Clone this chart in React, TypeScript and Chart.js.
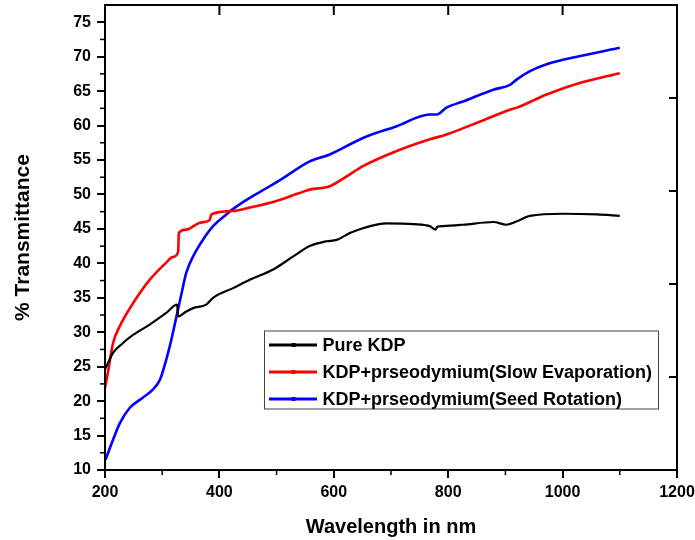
import React, { useEffect, useRef } from 'react';
import { Chart, registerables } from 'chart.js';

Chart.register(...registerables);

const seriesLabels = [
  'Pure KDP',
  'KDP+prseodymium(Slow Evaporation)',
  'KDP+prseodymium(Seed Rotation)',
];
const seriesColors = ['#000000', '#ff0000', '#0000ff'];

const pureX = [200, 205, 214, 231, 249, 278, 307, 326, 328, 342, 354, 377, 389, 424, 453, 494, 529, 558, 587, 605, 628, 651, 692, 739, 768, 778, 781, 791, 826, 879, 902, 920, 943, 1001, 1060, 1100];
const pureY = [24.6, 25.5, 27.0, 28.4, 29.6, 31.1, 32.8, 34.0, 32.3, 33.0, 33.5, 34.0, 35.0, 36.4, 37.6, 39.1, 41.0, 42.5, 43.2, 43.4, 44.4, 45.1, 45.8, 45.7, 45.4, 44.9, 45.3, 45.4, 45.6, 46.0, 45.6, 46.1, 46.9, 47.2, 47.1, 46.9];

const slowX = [200, 205, 214, 226, 249, 278, 307, 318, 328, 329, 342, 366, 383, 386, 424, 448, 494, 540, 558, 593, 622, 651, 710, 768, 797, 856, 908, 920, 972, 1031, 1100];
const slowY = [21.9, 24.1, 28.4, 30.9, 34.2, 37.6, 40.1, 40.9, 41.7, 44.4, 44.9, 45.9, 46.3, 47.1, 47.6, 48.0, 48.9, 50.2, 50.7, 51.2, 52.6, 54.1, 56.3, 58.0, 58.7, 60.6, 62.3, 62.6, 64.5, 66.2, 67.6];

const seedX = [201, 214, 226, 243, 266, 284, 296, 307, 316, 325, 334, 342, 354, 371, 389, 412, 424, 453, 482, 508, 558, 593, 651, 710, 768, 780, 797, 826, 879, 908, 920, 943, 972, 1031, 1100];
const seedY = [11.5, 14.4, 16.8, 19.0, 20.5, 21.7, 23.1, 26.0, 28.9, 32.3, 35.7, 38.6, 41.0, 43.4, 45.4, 47.1, 47.9, 49.5, 50.9, 52.2, 54.8, 55.8, 58.2, 59.9, 61.6, 61.6, 62.6, 63.5, 65.2, 65.9, 66.7, 67.9, 68.9, 70.1, 71.3];

const xMin = 200;
const xMax = 1200;
const xTickValues = [200, 400, 600, 800, 1000, 1200];
const xMinorTicks = [300, 500, 700, 900, 1100];
const xTopTicks = [400, 600, 800, 1000];
const yMin = 10;
const yMax = 77.5;
const yTickValues = [10, 15, 20, 25, 30, 35, 40, 45, 50, 55, 60, 65, 70, 75];
const yMinorTicks = [12.5, 17.5, 22.5, 27.5, 32.5, 37.5, 42.5, 47.5, 52.5, 57.5, 62.5, 67.5, 72.5];
const yRightTicks = [23.5, 37, 50.5, 64];

const FONT = "'Liberation Sans', Arial, sans-serif";

const framePlugin = {
  id: 'frame',
  afterDraw(chart: any) {
    const { ctx, chartArea } = chart;
    const { left, right, top, bottom } = chartArea;
    const xs = chart.scales.x;
    const ys = chart.scales.y;
    ctx.save();
    ctx.strokeStyle = '#000';
    ctx.lineWidth = 2;
    ctx.strokeRect(left, top, right - left, bottom - top);
    const seg = (x1: number, y1: number, x2: number, y2: number) => {
      ctx.beginPath();
      ctx.moveTo(x1, y1);
      ctx.lineTo(x2, y2);
      ctx.stroke();
    };
    ctx.lineWidth = 1.5;
    xMinorTicks.forEach((v) => {
      const px = xs.getPixelForValue(v);
      seg(px, bottom, px, bottom + 5);
    });
    yMinorTicks.forEach((v) => {
      const py = ys.getPixelForValue(v);
      seg(left - 5, py, left, py);
    });
    ctx.lineWidth = 2;
    xTopTicks.forEach((v) => {
      const px = xs.getPixelForValue(v);
      seg(px, top, px, top + 10);
    });
    yRightTicks.forEach((v) => {
      const py = ys.getPixelForValue(v);
      seg(right - 8, py, right, py);
    });

    // legend
    const bx = 264.5, by = 331, bw = 394, bh = 78;
    ctx.lineWidth = 1;
    ctx.strokeStyle = '#444';
    ctx.strokeRect(bx, by, bw, bh);
    const rows = [345, 372, 399];
    ctx.font = `bold 18px ${FONT}`;
    ctx.textBaseline = 'middle';
    ctx.textAlign = 'left';
    chart.data.datasets.forEach((ds: any, i: number) => {
      const cy = rows[i];
      ctx.strokeStyle = ds.borderColor;
      ctx.lineWidth = 3;
      seg(269, cy, 317, cy);
      ctx.fillStyle = ds.borderColor;
      ctx.fillRect(291.5, cy - 2, 4, 4);
      ctx.fillStyle = '#000';
      ctx.fillText(ds.label, 322.5, cy + 1);
    });
    ctx.restore();
  },
};

export default function App() {
  const ref = useRef<HTMLCanvasElement | null>(null);
  useEffect(() => {
    document.body.style.margin = '0';
    const canvas = ref.current;
    if (!canvas) return;
    const mk = (xs: number[], ys: number[]) => xs.map((x, i) => ({ x, y: ys[i] }));
    const datasets = [mk(pureX, pureY), mk(slowX, slowY), mk(seedX, seedY)].map((d, i) => ({
      label: seriesLabels[i],
      data: d,
      borderColor: seriesColors[i],
      backgroundColor: seriesColors[i],
      borderWidth: i === 0 ? 2.2 : 2.6,
      pointRadius: 0,
      cubicInterpolationMode: 'monotone' as const,
      fill: false,
    }));
    const chart = new Chart(canvas, {
      type: 'line',
      data: { datasets },
      options: {
        animation: false,
        responsive: false,
        devicePixelRatio: 1,
        layout: { padding: { left: 0, top: 5, right: 18, bottom: 0 } },
        plugins: {
          legend: { display: false },
          tooltip: { enabled: false },
        },
        scales: {
          x: {
            type: 'linear',
            min: xMin,
            max: xMax,
            afterBuildTicks: (s: any) => {
              s.ticks = xTickValues.map((v) => ({ value: v }));
            },
            ticks: {
              color: '#000',
              font: { family: FONT, size: 16, weight: 'bold' },
              padding: 5,
              maxRotation: 0,
              autoSkip: false,
              callback: (v: any) => String(v),
            },
            grid: { drawOnChartArea: false, tickLength: 8, lineWidth: 2, color: '#000' },
            border: { display: false },
            title: {
              display: true,
              text: 'Wavelength in nm',
              color: '#000',
              font: { family: FONT, size: 20, weight: 'bold' },
              padding: { top: 0, bottom: 1 },
            },
            afterFit: (s: any) => {
              s.height = 70;
              s.paddingLeft = 0;
              s.paddingRight = 0;
            },
          },
          y: {
            type: 'linear',
            min: yMin,
            max: yMax,
            afterBuildTicks: (s: any) => {
              s.ticks = yTickValues.map((v) => ({ value: v }));
            },
            ticks: {
              color: '#000',
              font: { family: FONT, size: 16, weight: 'bold' },
              padding: 6,
              autoSkip: false,
              callback: (v: any) => String(v),
            },
            grid: { drawOnChartArea: false, tickLength: 8, lineWidth: 2, color: '#000' },
            border: { display: false },
            title: {
              display: true,
              text: '% Transmittance',
              color: '#000',
              font: { family: FONT, size: 21, weight: 'bold' },
              padding: { top: 11, bottom: 0 },
            },
            afterFit: (s: any) => {
              s.width = 105;
              s.paddingTop = 0;
              s.paddingBottom = 0;
            },
          },
        },
      },
      plugins: [framePlugin],
    });
    return () => chart.destroy();
  }, []);
  return (
    <div style={{ width: 695, height: 540 }}>
      <canvas ref={ref} width={695} height={540} style={{ display: 'block' }} />
    </div>
  );
}
